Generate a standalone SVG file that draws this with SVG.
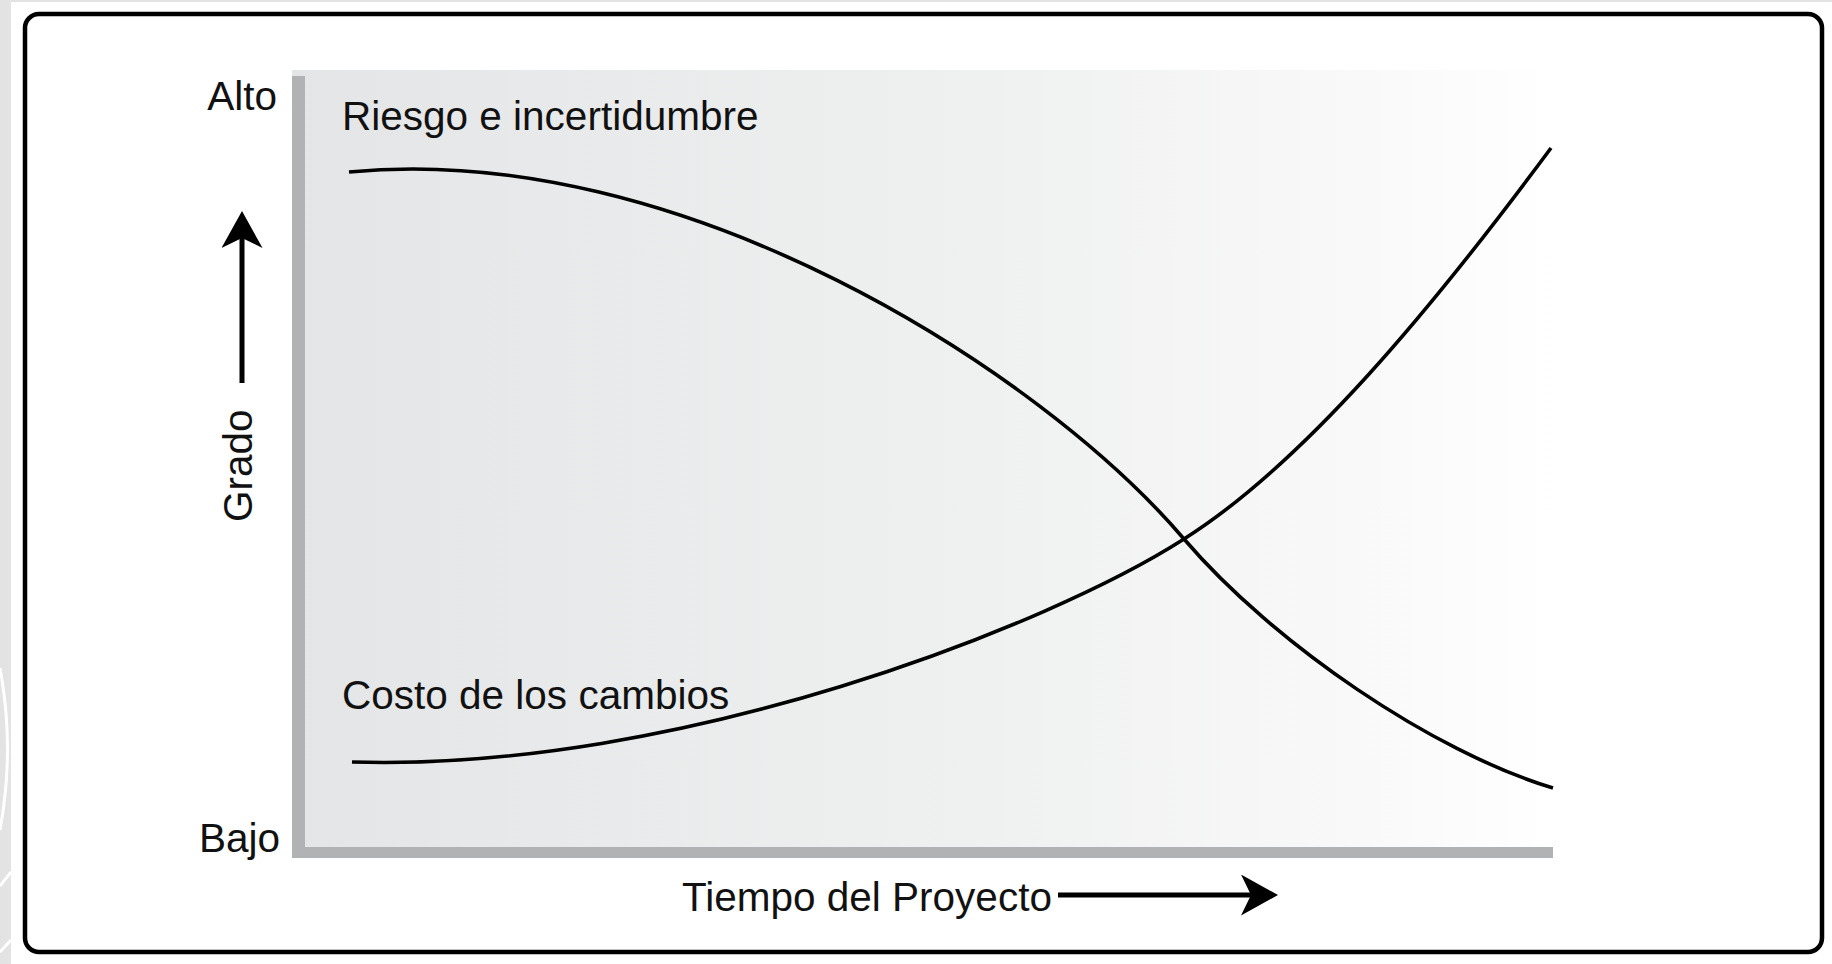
<svg xmlns="http://www.w3.org/2000/svg" width="1832" height="964" viewBox="0 0 1832 964">
  <style>
    .lbl { font-family: "Liberation Sans", Arial, sans-serif; font-size: 40.5px; fill: #111111; }
    .curve { fill: none; stroke: #000000; stroke-width: 3.6; stroke-linecap: butt; }
    .axisbar { fill: #b1b2b4; }
    .arrow { fill: none; stroke: #000000; stroke-width: 5; marker-end: url(#head); }
  </style>
  <defs>
    <linearGradient id="plotfill" x1="292" y1="0" x2="1553" y2="0" gradientUnits="userSpaceOnUse">
      <stop offset="0" stop-color="#e4e5e6"/>
      <stop offset="0.55" stop-color="#eff0f0"/>
      <stop offset="0.85" stop-color="#f9f9f9"/>
      <stop offset="1" stop-color="#ffffff"/>
    </linearGradient>
    <marker id="head" markerUnits="userSpaceOnUse" markerWidth="37" markerHeight="41" viewBox="0 0 37 41" refX="10" refY="20.5" orient="auto">
      <path d="M0,0 L37,20.5 L0,41 L10,20.5 Z" fill="#000000"/>
    </marker>
  </defs>

  <g id="background">
    <rect x="0" y="0" width="1832" height="964" fill="#ffffff"/>
    <rect x="0" y="0" width="1832" height="2" fill="#e3e3e3"/>
    <rect x="0" y="0" width="11" height="964" fill="#e3e3e3"/>
    <path d="M0,668 Q15,748 0,830" fill="none" stroke="#ffffff" stroke-width="3"/>
    <path d="M0,886 L11,872" fill="none" stroke="#ffffff" stroke-width="3"/>
    <path d="M0,952 L11,940" fill="none" stroke="#ffffff" stroke-width="3"/>
  </g>

  <g id="frame">
    <rect x="25" y="14" width="1797" height="938" rx="14" ry="14" fill="#ffffff" stroke="#000000" stroke-width="4.5"/>
  </g>

  <g id="plot-area">
    <rect x="292" y="70" width="1261" height="788" fill="url(#plotfill)"/>
    <rect class="axisbar" x="292" y="76" width="13" height="782"/>
    <rect class="axisbar" x="292" y="847" width="1261" height="11"/>
  </g>

  <g id="curve-riesgo">
    <path class="curve" d="M349,172 C680,140 1040,370 1184,539 C1274,644 1433,752 1553,788"/>
    <text class="lbl" x="342" y="130">Riesgo e incertidumbre</text>
  </g>

  <g id="curve-costo">
    <path class="curve" d="M352,762 C680,772 1050,625 1184,539 C1304,463 1431,310 1551,148"/>
    <text class="lbl" x="342" y="709">Costo de los cambios</text>
  </g>

  <g id="axis-labels">
    <text class="lbl" x="277" y="110" text-anchor="end">Alto</text>
    <text class="lbl" x="280" y="852" text-anchor="end">Bajo</text>
    <text class="lbl" transform="translate(252,522) rotate(-90)">Grado</text>
    <text class="lbl" x="682" y="911">Tiempo del Proyecto</text>
  </g>

  <g id="connectors">
    <line class="arrow" x1="242" y1="383" x2="242" y2="238"/>
    <line class="arrow" x1="1058" y1="895" x2="1251" y2="895"/>
  </g>
</svg>
